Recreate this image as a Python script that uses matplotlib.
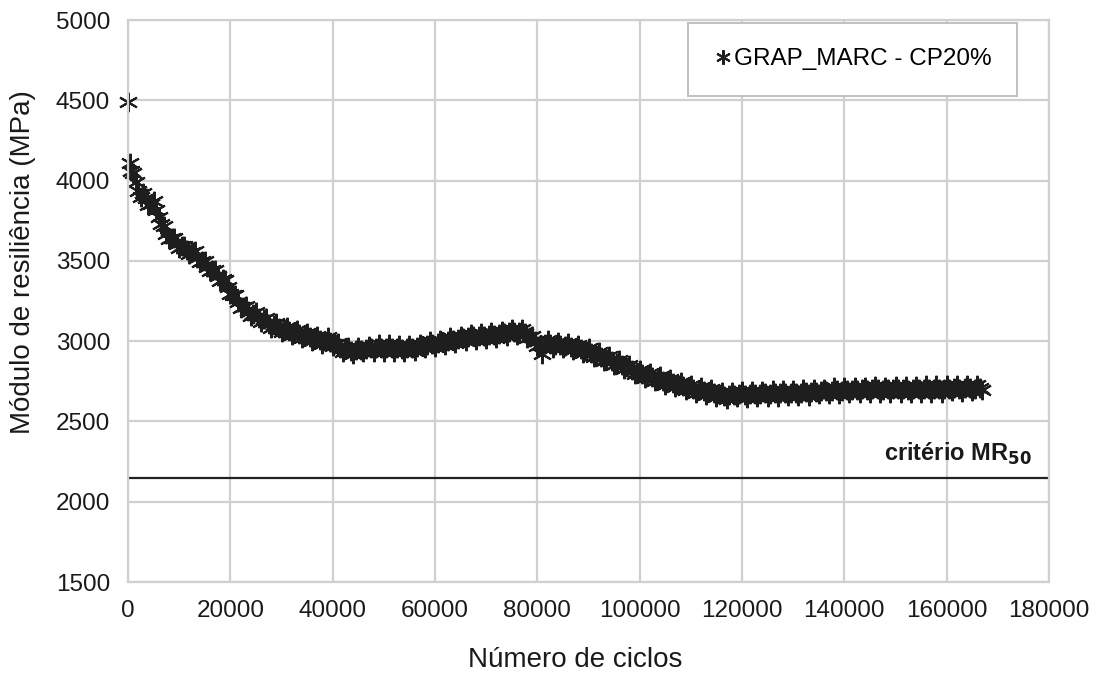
import numpy as np
import matplotlib.pyplot as plt

# Resilient modulus vs. number of load cycles
first_cycles = [0, 300, 600]
first_mr = [4490, 4110, 4060]

# readings at 1000, 2000, ... cycles
mr_per_1000 = [
    4045, 3935, 3925, 3850, 3870, 3775, 3715, 3635, 3640, 3580,
    3595, 3540, 3560, 3490, 3500, 3435, 3445, 3375, 3380, 3295,
    3285, 3205, 3220, 3155, 3180, 3120, 3145, 3085, 3115, 3060,
    3090, 3040, 3070, 3020, 3050, 3000, 3030, 2980, 3025, 2970,
    2990, 2935, 2965, 2920, 2965, 2930, 2970, 2935, 2980, 2935,
    2980, 2935, 2975, 2930, 2975, 2940, 2985, 2955, 3000, 2965,
    3010, 2975, 3025, 2990, 3035, 3000, 3045, 3010, 3050, 3015,
    3060, 3020, 3065, 3030, 3075, 3040, 3075, 3020, 3030, 2970,
    2920, 3005, 2960, 2995, 2955, 2990, 2945, 2975, 2925, 2955,
    2900, 2930, 2875, 2905, 2850, 2880, 2825, 2850, 2795, 2820,
    2770, 2800, 2750, 2780, 2730, 2765, 2715, 2745, 2695, 2730,
    2680, 2715, 2665, 2700, 2655, 2685, 2640, 2685, 2650, 2690,
    2645, 2690, 2655, 2690, 2650, 2695, 2650, 2695, 2660, 2695,
    2660, 2705, 2660, 2705, 2670, 2705, 2670, 2715, 2670, 2715,
    2675, 2715, 2680, 2715, 2680, 2720, 2675, 2715, 2680, 2720,
    2675, 2720, 2675, 2720, 2680, 2725, 2680, 2725, 2680, 2725,
    2690, 2730, 2685, 2730, 2690, 2725, 2695,
]

# readings at 1500, 2500, ... cycles
mr_mid = [
    3990, 3900, 3890, 3855, 3820, 3730, 3670, 3640, 3605, 3590,
    3565, 3555, 3520, 3500, 3465, 3445, 3405, 3385, 3340, 3290,
    3245, 3215, 3190, 3170, 3145, 3135, 3110, 3100, 3085, 3075,
    3065, 3055, 3045, 3035, 3025, 3015, 3005, 3000, 2995, 2980,
    2960, 2950, 2940, 2945, 2945, 2950, 2955, 2955, 2960, 2955,
    2960, 2955, 2950, 2955, 2955, 2965, 2970, 2975, 2985, 2990,
    2995, 3000, 3010, 3015, 3020, 3025, 3030, 3030, 3035, 3040,
    3040, 3045, 3050, 3055, 3060, 3060, 3050, 3025, 3000, 2975,
    2985, 2985, 2975, 2975, 2970, 2965, 2960, 2950, 2940, 2925,
    2915, 2900, 2890, 2875, 2865, 2850, 2840, 2820, 2810, 2795,
    2785, 2775, 2765, 2755, 2745, 2740, 2730, 2720, 2710, 2705,
    2695, 2690, 2685, 2675, 2670, 2660, 2665, 2665, 2670, 2665,
    2670, 2670, 2670, 2675, 2670, 2675, 2675, 2680, 2675, 2680,
    2680, 2685, 2685, 2685, 2690, 2690, 2690, 2695, 2690, 2695,
    2695, 2695, 2700, 2695, 2700, 2700, 2695, 2700, 2700, 2700,
    2700, 2695, 2700, 2700, 2705, 2700, 2705, 2705, 2700, 2705,
    2710, 2705, 2710, 2710, 2705, 2710,
]

cycles_1000 = list(range(1000, 1000 * (len(mr_per_1000) + 1), 1000))
cycles_mid = list(range(1500, 1000 * len(mr_mid) + 1500, 1000))

cycles = first_cycles + cycles_1000 + cycles_mid
mr = first_mr + mr_per_1000 + mr_mid

mr50_criterion = 2150

fig = plt.figure(figsize=(10.99, 6.73), dpi=100)
ax = fig.add_axes([0.1165, 0.1352, 0.838, 0.835])

grid_color = "#d0d0d0"
ax.plot(cycles, mr, linestyle="none", marker=(6, 2, 0), markersize=14,
        markeredgewidth=1.5, color="#1e1e1e", label="GRAP_MARC - CP20%",
        clip_on=False)

ax.axhline(mr50_criterion, color="#222222", linewidth=1.6)
ax.text(176700, mr50_criterion + 65, r"critério MR$_{\mathbf{50}}$",
        ha="right", va="bottom", fontsize=17, fontweight="bold",
        family="Liberation Sans", color="#1a1a1a")

ax.set_xlim(0, 180000)
ax.set_ylim(1500, 5000)
ax.set_xticks(np.arange(0, 180001, 20000))
ax.set_yticks(np.arange(1500, 5001, 500))
ax.grid(True, color=grid_color, linewidth=1.6)
ax.set_axisbelow(True)
for side in ax.spines:
    ax.spines[side].set_color(grid_color)
    ax.spines[side].set_linewidth(1.6)

ax.tick_params(length=0, pad=13, labelsize=17.5, labelcolor="#1a1a1a")
for lab in ax.get_xticklabels() + ax.get_yticklabels():
    lab.set_family("Liberation Sans")

ax.set_xlabel("Número de ciclos", fontsize=20, family="Liberation Sans",
              color="#1a1a1a")
ax.xaxis.set_label_coords(0.486, -0.115)
ax.set_ylabel("Módulo de resiliência (MPa)", fontsize=20,
              family="Liberation Sans", color="#1a1a1a")
ax.yaxis.set_label_coords(-0.1, 0.569)

leg = ax.legend(loc="upper right", bbox_to_anchor=(0.9653, 0.995),
                borderaxespad=0, borderpad=1.05, handlelength=0.8,
                handletextpad=0.05, fancybox=False, framealpha=1,
                markerscale=0.75,
                prop={"family": "Liberation Sans", "size": 17.5})
leg.get_frame().set_edgecolor("#c0c0c0")
leg.get_frame().set_linewidth(1.4)

fig.savefig("out.png", dpi=100)
